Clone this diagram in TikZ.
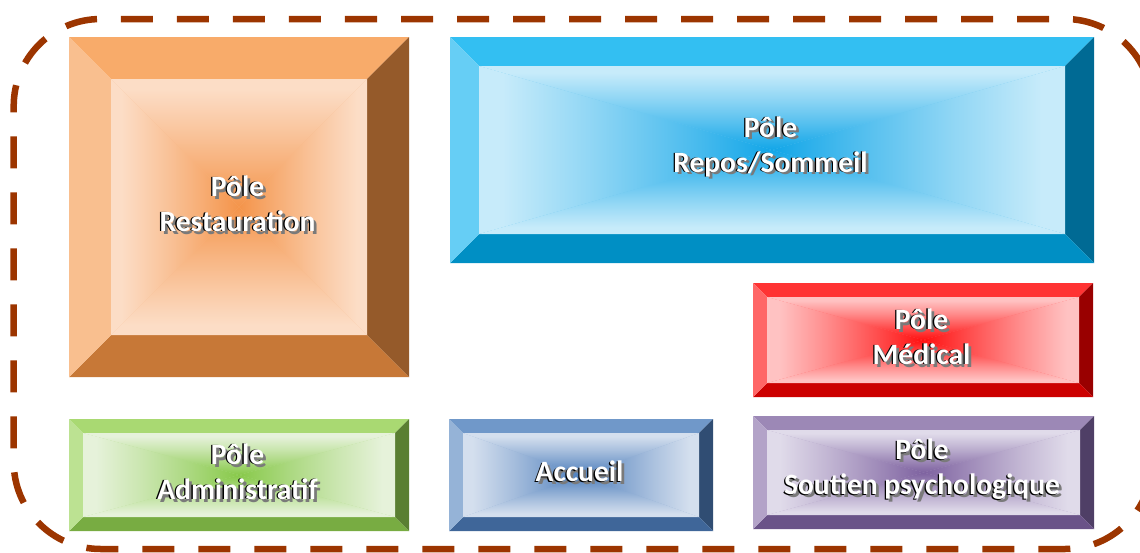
\documentclass[tikz,border=0pt]{standalone}
\usepackage{fontspec}
\setmainfont{Carlito}
\usetikzlibrary{calc}

\definecolor{frameRust}{HTML}{9C3500}
\definecolor{shadowgray}{HTML}{7A7A7A}

% colour set of a pole: top, left, right, bottom bevels, panel centre, panel edge
\newcommand\defpole[7]{%
  \definecolor{#1T}{HTML}{#2}\definecolor{#1L}{HTML}{#3}%
  \definecolor{#1R}{HTML}{#4}\definecolor{#1B}{HTML}{#5}%
  \definecolor{#1C}{HTML}{#6}\definecolor{#1E}{HTML}{#7}}

\defpole{resto}{F8AB6A}{F9BF8F}{955A2A}{C77837}{F4944A}{FCDDC6}
\defpole{repos}{33BFF2}{66CEF5}{006A94}{008FC4}{12A6E8}{C7EBFA}
\defpole{medic}{FF3333}{FF6666}{990000}{CC0000}{FF1010}{FFC2C2}
\defpole{soutien}{9C88B6}{B3A3C8}{4F3F66}{6A5388}{7E62A0}{E0DBEA}
\defpole{admin}{A9D972}{BCE292}{5A7F32}{78AC42}{88C94A}{E6F2DA}
\defpole{accueil}{7098C9}{95B3D7}{304D73}{3F6699}{4F7FBC}{D4DFEE}

% panel gradient: centre colour at the bottom of the box, edge colour at the top
\colorlet{pcC}{black}\colorlet{pcM}{gray}\colorlet{pcN}{lightgray}\colorlet{pcE}{white}
\pgfdeclareverticalshading[pcC,pcM,pcN,pcE]{polepanel}{100bp}{%
  color(0bp)=(pcC); color(25bp)=(pcC); color(40bp)=(pcM);
  color(56bp)=(pcN); color(71bp)=(pcE); color(100bp)=(pcE)}

% white lettering with a dark edge and a grey drop shadow
\newcommand\shtext[1]{%
  \rlap{\kern2.8pt\raisebox{-2.8pt}{\textcolor{shadowgray}{#1}}}%
  \rlap{\kern-1.3pt\raisebox{-0.6pt}{\textcolor{black}{#1}}}%
  \textcolor{white}{#1}}

\tikzset{
  polelabel/.style={font=\bfseries\fontsize{29.5}{35}\selectfont,
    align=center, inner sep=0pt},
  frameline/.style={draw=frameRust, line width=6.5pt,
    dash pattern=on 32pt off 24pt, dash phase=25.7pt, rounded corners=87pt}
}

% #1 name, #2 left, #3 top, #4 right, #5 bottom, #6 bevel, #7 colour set, #8 label
\newcommand\polebox[8]{%
  \coordinate (#1 o1) at (#2,#3);
  \coordinate (#1 o2) at (#4,#5);
  \coordinate (#1 i1) at ($(#1 o1)+(#6,#6)$);
  \coordinate (#1 i2) at ($(#1 o2)-(#6,#6)$);
  \coordinate (#1 c) at ($(#1 o1)!0.5!(#1 o2)$);
  \fill[#7T] (#1 o1) -- (#1 o1 -| #1 o2) -- (#1 i1 -| #1 i2) -- (#1 i1) -- cycle;
  \fill[#7R] (#1 o1 -| #1 o2) -- (#1 o2) -- (#1 i2) -- (#1 i1 -| #1 i2) -- cycle;
  \fill[#7B] (#1 o2) -- (#1 o2 -| #1 o1) -- (#1 i2 -| #1 i1) -- (#1 i2) -- cycle;
  \fill[#7L] (#1 o1) -- (#1 i1) -- (#1 i2 -| #1 i1) -- (#1 o2 -| #1 o1) -- cycle;
  \colorlet{pcC}{#7C}\colorlet{pcE}{#7E}%
  \colorlet{pcM}{#7C!65!#7E}\colorlet{pcN}{#7C!30!#7E}%
  \fill[#7C!50!#7E] (#1 i1) rectangle (#1 i2);
  \shade[shading=polepanel] (#1 i1) -- (#1 i1 -| #1 i2) -- (#1 c) -- cycle;
  \shade[shading=polepanel, shading angle=180] (#1 i2) -- (#1 i2 -| #1 i1) -- (#1 c) -- cycle;
  \shade[shading=polepanel, shading angle=90] (#1 i1) -- (#1 i2 -| #1 i1) -- (#1 c) -- cycle;
  \shade[shading=polepanel, shading angle=-90] (#1 i1 -| #1 i2) -- (#1 i2) -- (#1 c) -- cycle;
  \node[polelabel] (#1) at ($(#1 c)+(-1.5,-2)$) {#8};
}

\begin{document}
\begin{tikzpicture}[x=1pt, y=-1pt]
  \useasboundingbox (0,0) rectangle (1140,552);

  \polebox{resto}{69}{37}{409}{377}{42}{resto}{\shtext{Pôle}\\\shtext{Restauration}}
  \polebox{repos}{450}{37}{1094}{263}{29}{repos}{\shtext{Pôle}\\\shtext{Repos/Sommeil}}
  \polebox{medic}{753}{283}{1093}{397}{14}{medic}{\shtext{Pôle}\\\shtext{Médical}}
  \polebox{admin}{69}{419}{409}{531}{14}{admin}{\shtext{Pôle}\\\shtext{Administratif}}
  \polebox{accueil}{449}{419}{713}{531}{14}{accueil}{\shtext{Accueil}}
  \polebox{soutien}{753}{416}{1094}{529}{14}{soutien}{\shtext{Pôle}\\\shtext{Soutien psychologique}}

  % dashed enclosure of all poles, running past the right edge
  \coordinate (frame nw) at (13.7,19);
  \coordinate (frame se) at (1152,549);
  \path[frameline] (frame nw) rectangle (frame se);
\end{tikzpicture}
\end{document}
